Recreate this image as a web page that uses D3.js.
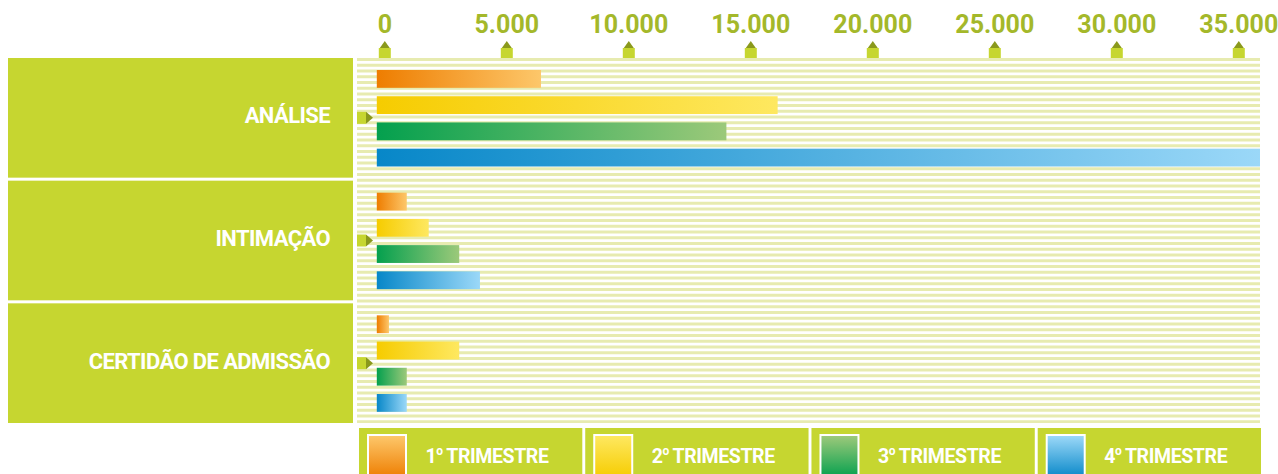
<!DOCTYPE html>
<html>
<head>
<meta charset="utf-8">
<script src="https://cdn.jsdelivr.net/npm/d3@7"></script>
<style>
  html, body { margin: 0; padding: 0; background: #ffffff; }
  svg { display: block; }
  text { font-family: "Roboto", "Liberation Sans", sans-serif; font-weight: bold; }
</style>
</head>
<body>
<svg id="chart" width="1278" height="474"></svg>
<script>
// ---------- DATA ----------
const categories = ["ANÁLISE", "INTIMAÇÃO", "CERTIDÃO DE ADMISSÃO"];
const quarters = ["1", "2", "3", "4"];
const quarterLabels = ["TRIMESTRE", "TRIMESTRE", "TRIMESTRE", "TRIMESTRE"];
const q1Values = [6400, 900, 170];
const q2Values = [16100, 1800, 3050];
const q3Values = [14000, 3050, 900];
const q4Values = [35900, 3900, 900];
const tickValues = [0, 5000, 10000, 15000, 20000, 25000, 30000, 35000];
const tickLabels = ["0", "5.000", "10.000", "15.000", "20.000", "25.000", "30.000", "35.000"];

// ---------- STYLE ----------
const gradients = [
  ["#ee7d00", "#fdc76a"],
  ["#f6cc00", "#fee860"],
  ["#04a04e", "#9cc97a"],
  ["#0787c8", "#9bd8f8"]
];
const boxColor = "#c6d630";
const stripeColor = "#e7ebb0";
const darkOlive = "#8a991c";
const tickTextColor = "#a4b82a";

const svg = d3.select("#chart");
const defs = svg.append("defs");
gradients.forEach((g, i) => {
  const h = defs.append("linearGradient").attr("id", "hg" + i)
    .attr("x1", "0%").attr("x2", "100%").attr("y1", "0%").attr("y2", "0%");
  h.append("stop").attr("offset", "0%").attr("stop-color", g[0]);
  h.append("stop").attr("offset", "100%").attr("stop-color", g[1]);
  const v = defs.append("linearGradient").attr("id", "vg" + i)
    .attr("x1", "0%").attr("x2", "0%").attr("y1", "100%").attr("y2", "0%");
  v.append("stop").attr("offset", "0%").attr("stop-color", g[0]);
  v.append("stop").attr("offset", "100%").attr("stop-color", g[1]);
});

// ---------- SCALES ----------
const plotLeft = 357, plotRight = 1260, plotTop = 58, plotBottom = 423;
const x = d3.scaleLinear().domain([0, 35000]).range([384.8, 1238.8]);
const y = d3.scaleBand().domain(categories).range([plotTop, plotBottom]).paddingInner(0.0245).paddingOuter(0);
const yq = d3.scaleBand().domain(quarters).range([12, 108.5]).paddingInner(0.32).paddingOuter(0);
const barStart = x(0) - 8;

defs.append("clipPath").attr("id", "plotclip").append("rect")
  .attr("x", plotLeft).attr("y", plotTop).attr("width", plotRight - plotLeft).attr("height", plotBottom - plotTop);

// ---------- STRIPES ----------
const stripePeriod = 5.75;
svg.append("g").selectAll("rect")
  .data(d3.range(plotTop, plotBottom, stripePeriod))
  .join("rect")
  .attr("x", plotLeft).attr("y", d => d)
  .attr("width", plotRight - plotLeft)
  .attr("height", d => Math.min(3, plotBottom - d))
  .attr("fill", stripeColor);

// ---------- LEFT CATEGORY BOXES ----------
const catG = svg.append("g");
catG.selectAll("rect").data(categories).join("rect")
  .attr("x", 8).attr("y", d => y(d))
  .attr("width", 345).attr("height", y.bandwidth())
  .attr("fill", boxColor);
catG.selectAll("text").data(categories).join("text")
  .attr("x", 330).attr("y", d => y(d) + y.bandwidth() / 2 + 5.5)
  .attr("text-anchor", "end").attr("fill", "#ffffff")
  .attr("font-size", 22).attr("letter-spacing", -0.6).text(d => d);

// small markers at group centers
const mk = svg.append("g");
mk.selectAll("rect").data(categories).join("rect")
  .attr("x", 357).attr("y", d => y(d) + y.bandwidth() / 2 - 6)
  .attr("width", 9).attr("height", 12).attr("fill", boxColor);
mk.selectAll("path").data(categories).join("path")
  .attr("d", d => {
    const cy = y(d) + y.bandwidth() / 2;
    return `M366,${cy - 6}L373,${cy}L366,${cy + 6}Z`;
  })
  .attr("fill", darkOlive);

// ---------- BARS ----------
const series = [q1Values, q2Values, q3Values, q4Values];
const barsG = svg.append("g").attr("clip-path", "url(#plotclip)");
series.forEach((vals, qi) => {
  barsG.append("g").selectAll("rect")
    .data(categories.map((c, ci) => ({ c, v: vals[ci] })))
    .join("rect")
    .attr("x", barStart)
    .attr("y", d => y(d.c) + yq(quarters[qi]))
    .attr("width", d => x(d.v) - barStart)
    .attr("height", yq.bandwidth())
    .attr("fill", `url(#hg${qi})`);
});

// ---------- TOP AXIS ----------
const ax = svg.append("g");
const tk = ax.selectAll("g").data(tickValues).join("g")
  .attr("transform", d => `translate(${x(d)},0)`);
tk.append("rect").attr("x", -6).attr("y", 48).attr("width", 12).attr("height", 10).attr("fill", boxColor);
tk.append("path").attr("d", "M-5,48L5,48L0,41Z").attr("fill", darkOlive);
tk.append("text").attr("y", 33).attr("text-anchor", "middle")
  .attr("fill", tickTextColor).attr("font-size", 25)
  .text((d, i) => tickLabels[i]);

// ---------- LEGEND ----------
const lx = d3.scaleBand().domain(quarters).range([359, 1261]).paddingInner(0.013).paddingOuter(0);
const lg = svg.append("g").selectAll("g").data(quarters).join("g")
  .attr("transform", d => `translate(${lx(d)},428)`);
lg.append("rect").attr("width", lx.bandwidth()).attr("height", 50).attr("fill", boxColor);
lg.append("rect").attr("x", 8).attr("y", 6).attr("width", 40).attr("height", 44).attr("fill", "#ffffff");
lg.append("rect").attr("x", 10).attr("y", 8).attr("width", 36).attr("height", 42)
  .attr("fill", (d, i) => `url(#vg${i})`);
const lt = lg.append("text").attr("x", 128).attr("y", 35).attr("text-anchor", "middle")
  .attr("fill", "#ffffff").attr("font-size", 19.5).attr("letter-spacing", -0.4);
lt.append("tspan").text(d => d);
lt.append("tspan").attr("font-size", 12).attr("dy", -8).text("o");
lt.append("tspan").attr("dy", 8).text((d, i) => "\u2009" + quarterLabels[i]);
</script>
</body>
</html>
